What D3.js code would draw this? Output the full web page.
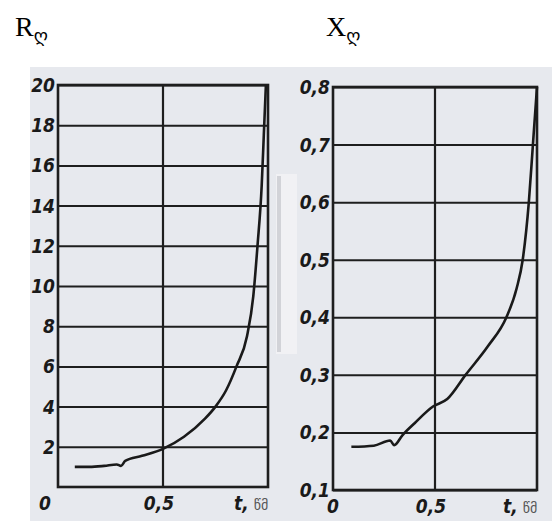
<!DOCTYPE html>
<html>
<head>
<meta charset="utf-8">
<script src="https://cdn.jsdelivr.net/npm/d3@7"></script>
<style>
  body { margin: 0; background: #fff; }
  svg { display: block; }
</style>
</head>
<body>
<div id="chart"></div>
<script>
// values
let rTime = [0.08, 0.15, 0.22, 0.28, 0.3, 0.32, 0.4, 0.5, 0.6, 0.7, 0.75, 0.8, 0.85, 0.9, 0.93, 0.95, 0.97, 0.98, 0.99]
let rValues = [1.0, 1.0, 1.05, 1.12, 1.05, 1.3, 1.55, 1.9, 2.5, 3.4, 4.0, 4.8, 6.0, 7.5, 9.5, 12, 15, 17.5, 20]

let xTime = [0.09, 0.2, 0.28, 0.3, 0.34, 0.4, 0.49, 0.56, 0.65, 0.76, 0.85, 0.9, 0.93, 0.96, 0.98, 1.0]
let xValues = [0.175, 0.177, 0.186, 0.178, 0.195, 0.216, 0.245, 0.258, 0.3, 0.35, 0.4, 0.45, 0.5, 0.6, 0.7, 0.8]

let rTicks = [0, 2, 4, 6, 8, 10, 12, 14, 16, 18, 20]
let xTicks = [0.1, 0.2, 0.3, 0.4, 0.5, 0.6, 0.7, 0.8]
let tTicks = [0, 0.5]

let width = 555
let height = 521

let svg = d3.select('#chart')
  .append('svg')
  .attr('width', width)
  .attr('height', height)

// scanned page background
svg.append('rect')
  .attr('x', 30).attr('y', 67)
  .attr('width', 522).attr('height', 454)
  .attr('fill', '#e7e9ee')

// pale strip in the middle of the scan
svg.append('rect')
  .attr('x', 276).attr('y', 174)
  .attr('width', 21).attr('height', 180)
  .attr('fill', '#f1f1f4')
svg.append('rect')
  .attr('x', 277).attr('y', 176)
  .attr('width', 4).attr('height', 176)
  .attr('fill', '#d2d3d8')

let tickFont = "'DejaVu Sans Condensed', 'Liberation Sans Narrow', sans-serif"

function drawPanel(opts) {
  let xScale = d3.scaleLinear().domain([0, 1]).range([opts.left, opts.right])
  let yScale = d3.scaleLinear().domain(opts.yDomain).range([opts.bottom, opts.top])
  let g = svg.append('g')

  // horizontal grid
  g.append('g')
    .attr('transform', `translate(${opts.left},0)`)
    .call(d3.axisLeft(yScale).tickValues(opts.yTicks).tickSize(-(opts.right - opts.left)).tickFormat(''))
    .call(a => a.select('.domain').remove())
    .selectAll('line')
    .attr('stroke', '#1e1e1e')
    .attr('stroke-width', 2)

  // vertical line at 0.5
  g.append('line')
    .attr('x1', xScale(0.5)).attr('x2', xScale(0.5))
    .attr('y1', opts.top).attr('y2', opts.bottom)
    .attr('stroke', '#1e1e1e')
    .attr('stroke-width', 2.2)

  // frame
  g.append('rect')
    .attr('x', opts.left).attr('y', opts.top)
    .attr('width', opts.right - opts.left)
    .attr('height', opts.bottom - opts.top)
    .attr('fill', 'none')
    .attr('stroke', '#1e1e1e')
    .attr('stroke-width', 2.6)

  // y tick labels
  g.selectAll('.ylab')
    .data(opts.yTicks)
    .enter()
    .append('text')
    .attr('class', 'ylab')
    .attr('x', opts.left - 3)
    .attr('y', d => yScale(d) + 7)
    .attr('text-anchor', 'end')
    .attr('font-family', tickFont)
    .attr('font-style', 'italic')
    .attr('font-weight', 'bold')
    .attr('font-size', 19)
    .attr('fill', '#1a1a1a')
    .text(opts.yFormat)

  // x tick labels
  g.selectAll('.xlab')
    .data(tTicks)
    .enter()
    .append('text')
    .attr('class', 'xlab')
    .attr('x', d => xScale(d) + (d === 0 ? opts.zeroShift : -4))
    .attr('y', opts.bottom + 23)
    .attr('text-anchor', 'middle')
    .attr('font-family', tickFont)
    .attr('font-style', 'italic')
    .attr('font-weight', 'bold')
    .attr('font-size', 19)
    .attr('fill', '#1a1a1a')
    .text(d => d === 0 ? '0' : '0,5')

  let unit = g.append('text')
    .attr('x', xScale(1) - 34)
    .attr('y', opts.bottom + 23)
    .attr('font-size', 19)
    .attr('fill', '#1a1a1a')
  unit.append('tspan')
    .attr('font-family', tickFont)
    .attr('font-style', 'italic')
    .attr('font-weight', 'bold')
    .text('t,')
  unit.append('tspan')
    .attr('dx', 5)
    .attr('font-family', "'DejaVu Sans', sans-serif")
    .attr('font-size', 14)
    .attr('fill', '#555')
    .text('წმ')

  // curve
  let line = d3.line()
    .x(d => xScale(d[0]))
    .y(d => yScale(d[1]))
    .curve(d3.curveMonotoneX)

  g.append('path')
    .datum(d3.zip(opts.time, opts.values))
    .attr('d', line)
    .attr('fill', 'none')
    .attr('stroke', '#1a1a1a')
    .attr('stroke-width', 2.6)

  // title
  let title = svg.append('text')
    .attr('x', opts.titleX)
    .attr('y', 36)
    .attr('font-family', "'Liberation Serif', serif")
    .attr('font-size', 28)
    .attr('fill', '#000')
  title.append('tspan').text(opts.title)
  title.append('tspan')
    .attr('dy', 6)
    .attr('font-family', "'DejaVu Sans', sans-serif")
    .attr('font-size', 18)
    .text('ღ')
}

drawPanel({
  left: 58, right: 268, top: 85, bottom: 487,
  yDomain: [0, 20], yTicks: rTicks.filter(d => d > 0),
  yFormat: d => d,
  time: rTime, values: rValues,
  zeroShift: -13,
  title: 'R', titleX: 15
})

drawPanel({
  left: 333, right: 537, top: 87, bottom: 490,
  yDomain: [0.1, 0.8], yTicks: xTicks,
  yFormat: d => String(d).replace('.', ','),
  time: xTime, values: xValues,
  zeroShift: 0,
  title: 'X', titleX: 326
})
</script>
</body>
</html>
